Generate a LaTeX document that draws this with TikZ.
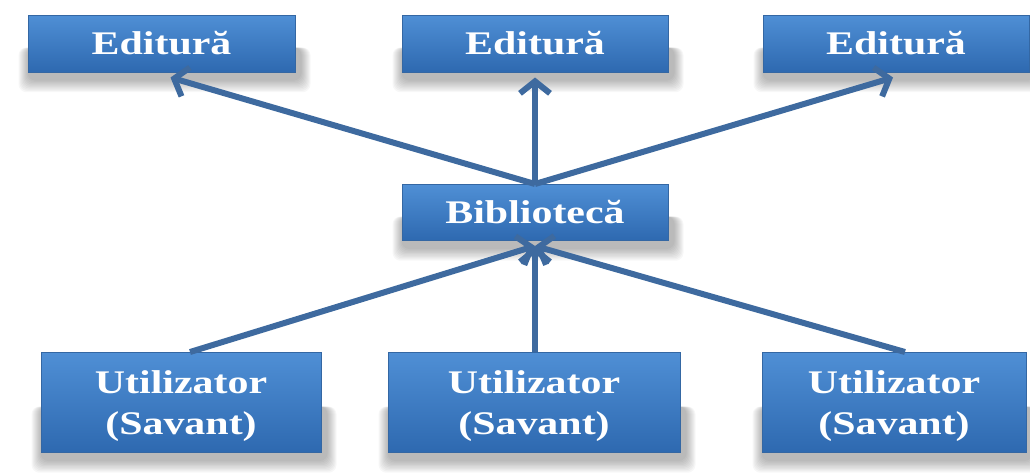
\documentclass[tikz,border=0pt]{standalone}
\usepackage{fontspec}
\setmainfont{Liberation Serif}
\usetikzlibrary{arrows.meta,backgrounds,calc}
\definecolor{boxtop}{HTML}{4F8FD5}
\definecolor{boxmid}{HTML}{3B7CC6}
\definecolor{boxbot}{HTML}{2E69B0}
\definecolor{boxedge}{HTML}{3467A3}
\definecolor{arrowc}{HTML}{3E6A9F}
\newcommand{\wdtxt}[1]{\scalebox{1.27}[1]{#1}}
\tikzset{
  box/.style={rectangle, draw=boxedge, line width=1pt, top color=boxtop, middle color=boxmid, bottom color=boxbot,
    text=white, font=\fontsize{33}{41}\selectfont\bfseries, align=center, inner sep=0pt},
  link/.style={draw=arrowc, line width=6pt,
    -{Straight Barb[length=12pt,width=30pt]}},
  shadowlayer/.style={fill=black, opacity=0.03, rounded corners=8pt}
}
\begin{document}
\begin{tikzpicture}[x=1pt,y=-1pt]
\useasboundingbox (0,0) rectangle (1030,475);
\node[box, minimum width=267pt, minimum height=57pt] (e1) at (161.5,43.5) {\wdtxt{Editură}};
\node[box, minimum width=266pt, minimum height=57pt] (e2) at (535,43.5) {\wdtxt{Editură}};
\node[box, minimum width=266pt, minimum height=57pt] (e3) at (896,43.5) {\wdtxt{Editură}};
\node[box, minimum width=266pt, minimum height=56pt] (b) at (535,212.5) {\wdtxt{Bibliotecă}};
\node[box, minimum width=280pt, minimum height=100pt, text depth=-4pt] (u1) at (181,402.5) {\wdtxt{Utilizator}\\\wdtxt{(Savant)}};
\node[box, minimum width=292pt, minimum height=100pt, text depth=-4pt] (u2) at (534,402.5) {\wdtxt{Utilizator}\\\wdtxt{(Savant)}};
\node[box, minimum width=264pt, minimum height=100pt, text depth=-4pt] (u3) at (894,402.5) {\wdtxt{Utilizator}\\\wdtxt{(Savant)}};
\begin{scope}[on background layer]
\foreach \n in {e1,e2,e3,b,u1,u2,u3}{
  \foreach \k in {0,...,9}{
    \fill[shadowlayer] ($(\n.west)+(-\k,4)$) rectangle ($(\n.south east)+(6+\k,8+1.3*\k)$);
  }
}
\end{scope}
\draw[link] (b.north) -- ($(e1.south)+(9,5)$);
\draw[link] (b.north) -- ($(e2.south)+(0,5)$);
\draw[link] (b.north) -- ($(e3.south)+(-3,5)$);
\draw[link] ($(u1.north)+(9,0)$) -- ($(b.south)+(0,5)$);
\draw[link] ($(u2.north)+(1,0)$) -- ($(b.south)+(0,5)$);
\draw[link] ($(u3.north)+(11,0)$) -- ($(b.south)+(0,5)$);
\end{tikzpicture}
\end{document}
